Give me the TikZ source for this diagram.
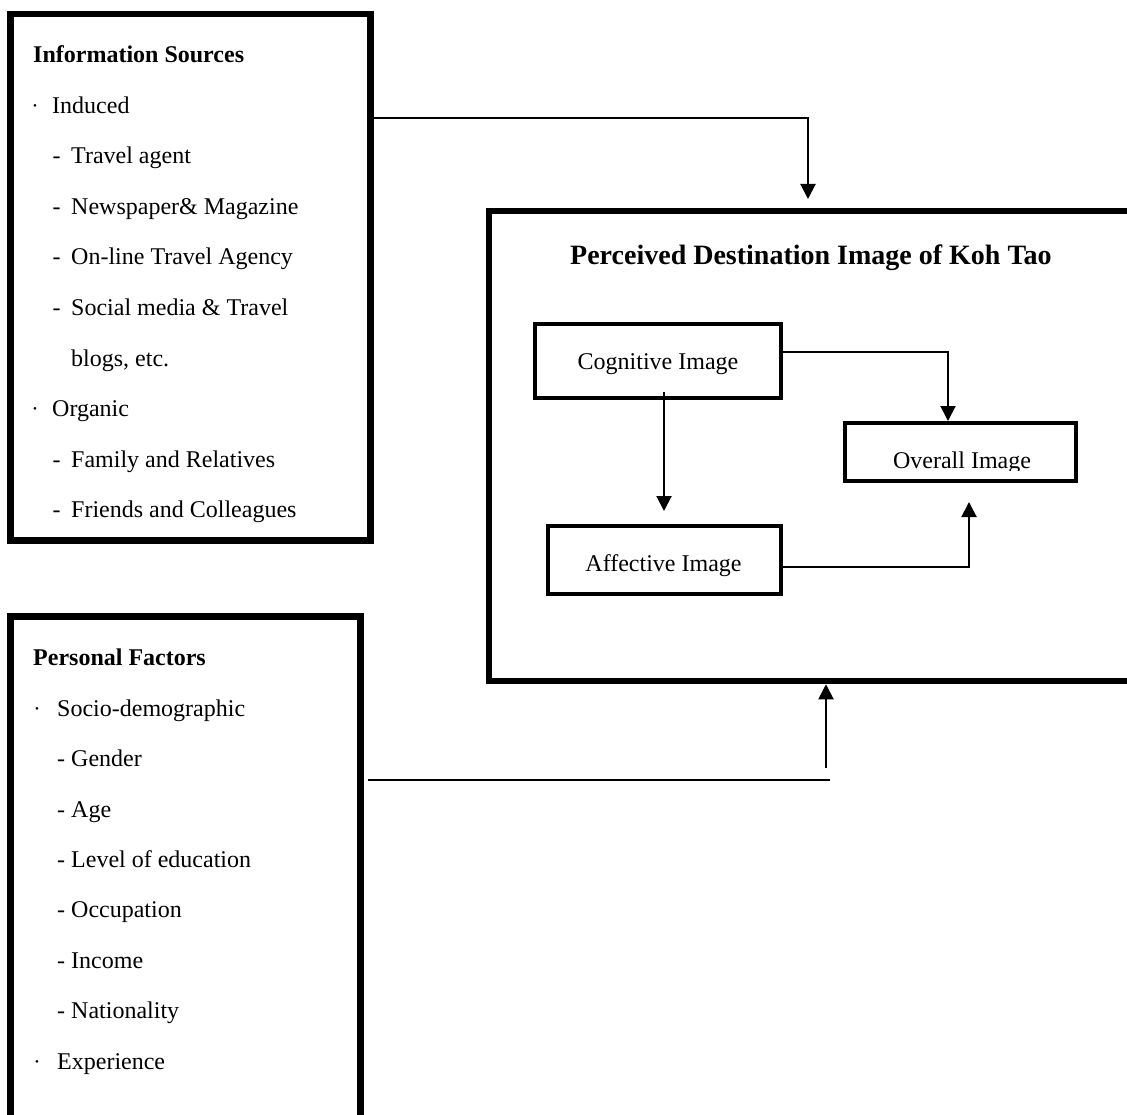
\documentclass[tikz,border=0pt]{standalone}
\usepackage{fontspec}
\setmainfont{Liberation Serif}
\usetikzlibrary{arrows.meta}
\begin{document}
\begin{tikzpicture}[x=1pt,y=-1pt,
  outerbox/.style={draw, line width=6.5pt, inner sep=0pt},
  innerbox/.style={draw, line width=4pt, inner sep=0pt},
  txt/.style={font=\fontsize{24pt}{28pt}\selectfont, anchor=base west, inner sep=0pt},
  ctxt/.style={txt, anchor=base},
  hd/.style={txt, font=\fontsize{24pt}{28pt}\selectfont\bfseries},
  bul/.style={inner sep=0pt, anchor=base, font=\fontsize{11pt}{13pt}\selectfont},
  conn/.style={line width=2pt},
  arr/.style={conn, -{Triangle[width=15pt,length=15pt]}}
]
\path[use as bounding box, clip] (0,0) rectangle (1127,1115);

% boxes
\node[outerbox, minimum width=360pt, minimum height=526.5pt] (info) at (190.5,277.25) {};
\node[outerbox, minimum width=350pt, minimum height=518.5pt] (pers) at (185.5,875.75) {};
\node[outerbox, minimum width=651pt, minimum height=470pt] (big) at (814.5,446) {};
\node[innerbox, minimum width=246pt, minimum height=74pt] (cog) at (658,361) {};
\node[innerbox, minimum width=233pt, minimum height=68.5pt] (aff) at (664.5,559.75) {};
\node[innerbox, minimum width=231pt, minimum height=57.5pt] (ovr) at (960.5,451.75) {};

% information sources text
\node[hd] (ih) at (33,63) {Information Sources};
\node[bul] (ib1) at (35,109.5) {•};
\node[txt] (i1) at (52,113.5) {Induced};
\node[txt] (id2) at (52.5,164) {-};
\node[txt] (i2) at (71,164) {Travel agent};
\node[txt] (id3) at (52.5,214.5) {-};
\node[txt] (i3) at (71,214.5) {Newspaper\& Magazine};
\node[txt] (id4) at (52.5,265) {-};
\node[txt] (i4) at (71,265) {On-line Travel Agency};
\node[txt] (id5) at (52.5,315.5) {-};
\node[txt] (i5) at (71,315.5) {Social media \& Travel};
\node[txt] (i6) at (71,366) {blogs, etc.};
\node[bul] (ib7) at (35,412.5) {•};
\node[txt] (i7) at (52,416.5) {Organic};
\node[txt] (id8) at (52.5,467) {-};
\node[txt] (i8) at (71,467) {Family and Relatives};
\node[txt] (id9) at (52.5,517) {-};
\node[txt] (i9) at (71,517) {Friends and Colleagues};

% personal factors text
\node[hd] (ph) at (33,665) {Personal Factors};
\node[bul] (pb1) at (37,712) {•};
\node[txt] (p1) at (57,716) {Socio-demographic};
\node[txt] (p2) at (57,766.5) {- Gender};
\node[txt] (p3) at (57,817) {- Age};
\node[txt] (p4) at (57,867) {- Level of education};
\node[txt] (p5) at (57,917.5) {- Occupation};
\node[txt] (p6) at (57,968) {- Income};
\node[txt] (p7) at (57,1018.5) {- Nationality};
\node[bul] (pb8) at (37,1065) {•};
\node[txt] (p8) at (57,1069) {Experience};

% perceived image texts
\node[txt, font=\fontsize{28pt}{32pt}\selectfont\bfseries] (title) at (570,265) {Perceived Destination Image of Koh Tao};
\node[ctxt] (cogt) at (658,369) {Cognitive Image};
\node[ctxt] (afft) at (663.5,571) {Affective Image};
\begin{scope}
  \clip (850,426) rectangle (1072,470.5);
  \node[ctxt] (ovrt) at (962,468) {Overall Image};
\end{scope}

% connectors
\draw[arr, shorten >=8.75pt] (info.east |- 0,118) -| (808,0 |- big.north);
\coordinate (pj) at (830,780);
\coordinate (pv) at (826,768);
\draw[conn, shorten <=4.5pt] (pers.east |- pj) -- (pj);
\draw[arr] (pv) -- (pv |- big.south);
\draw[arr, shorten <=-8pt, shorten >=12.5pt] (664,0 |- cog.south) -- (664,0 |- aff.north);
\draw[arr] (cog.east |- 0,352) -| (948,0 |- ovr.north);
\draw[arr, shorten >=19.5pt] (aff.east |- 0,567) -| (969,0 |- ovr.south);
\end{tikzpicture}
\end{document}
